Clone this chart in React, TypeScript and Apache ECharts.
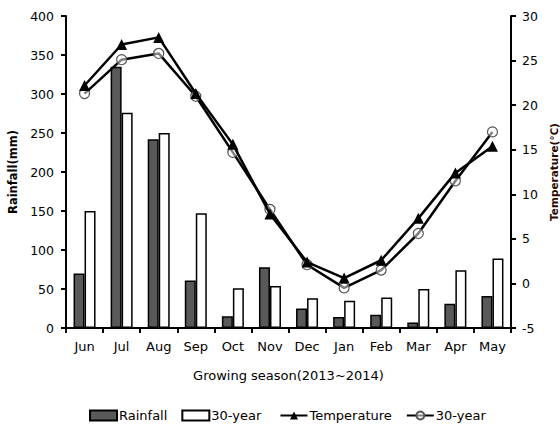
import React, { useEffect, useRef } from "react";
import * as echarts from "echarts";

const months = ["Jun", "Jul", "Aug", "Sep", "Oct", "Nov", "Dec", "Jan", "Feb", "Mar", "Apr", "May"];
const rainfall = [70, 335, 242, 61, 15, 78, 25, 14, 17, 7, 31, 41];
const rainfall30 = [150, 276, 250, 147, 51, 54, 38, 35, 39, 50, 74, 89];
const temperature = [22.2, 26.8, 27.6, 21.3, 15.6, 7.8, 2.4, 0.6, 2.6, 7.3, 12.4, 15.4];
const temperature30 = [21.3, 25.1, 25.8, 21.0, 14.7, 8.3, 2.1, -0.5, 1.5, 5.6, 11.5, 17.0];

const FONT = "DejaVu Sans";

export default function App() {
  const ref = useRef<HTMLDivElement>(null);
  useEffect(() => {
    if (!ref.current) return;
    const chart = echarts.init(ref.current, null, { renderer: "svg" });
    const axisLine = { show: true, lineStyle: { color: "#000", width: 2 } };
    const axisTick = { show: true, length: 5, lineStyle: { color: "#000", width: 2 } };
    const labelStyle = { color: "#000", fontFamily: FONT, fontSize: 12.5 };
    chart.setOption({
      animation: false,
      backgroundColor: "#fff",
      textStyle: { fontFamily: FONT },
      grid: { left: 66, right: 49, top: 16, bottom: 97, containLabel: false, outerBoundsMode: "none" },
      legend: {
        top: 404,
        left: 84,
        itemWidth: 27,
        itemHeight: 10,
        itemGap: 14,
        textStyle: { color: "#000", fontFamily: FONT, fontSize: 13, padding: [0, 0, 0, -3] },
        data: [
          { name: "Rainfall", icon: "rect" },
          { name: "30-year ", icon: "rect" },
          { name: "Temperature" },
          { name: "30-year" },
        ],
      },
      xAxis: {
        type: "category",
        data: months,
        boundaryGap: true,
        axisLine,
        axisTick: { ...axisTick, alignWithLabel: false },
        axisLabel: { ...labelStyle, fontSize: 13, margin: 12 },
        splitLine: { show: false },
        name: "Growing season(2013~2014)",
        nameLocation: "middle",
        nameGap: 41,
        nameTextStyle: { color: "#000", fontFamily: FONT, fontSize: 13 },
      },
      yAxis: [
        {
          type: "value",
          min: 0,
          max: 400,
          interval: 50,
          axisLine,
          axisTick,
          axisLabel: { ...labelStyle, margin: 12 },
          splitLine: { show: false },
          name: "Rainfall(mm)",
          nameLocation: "middle",
          nameRotate: 90,
          nameGap: 47,
          nameTextStyle: { color: "#000", fontFamily: FONT, fontSize: 11.5, fontWeight: "bold" },
        },
        {
          type: "value",
          min: -5,
          max: 30,
          interval: 5,
          position: "right",
          axisLine,
          axisTick,
          axisLabel: { ...labelStyle, margin: 11 },
          splitLine: { show: false },
          name: "Temperature(℃)",
          nameLocation: "middle",
          nameRotate: 90,
          nameGap: 34,
          nameTextStyle: { color: "#2a0a00", fontFamily: FONT, fontSize: 10.5, fontWeight: "bold" },
        },
      ],
      series: [
        {
          name: "Rainfall",
          type: "bar",
          data: rainfall,
          barWidth: 11,
          barGap: "0%",
          itemStyle: { color: "#595959", borderColor: "#000", borderWidth: 1.5 },
        },
        {
          name: "30-year ",
          type: "bar",
          data: rainfall30,
          barWidth: 11,
          barGap: "0%",
          itemStyle: { color: "#fff", borderColor: "#000", borderWidth: 1.5 },
        },
        {
          name: "Temperature",
          type: "line",
          yAxisIndex: 1,
          data: temperature,
          symbol: "triangle",
          symbolSize: 11,
          z: 5,
          lineStyle: { color: "#000", width: 2.5 },
          itemStyle: { color: "#000" },
        },
        {
          name: "30-year",
          type: "line",
          yAxisIndex: 1,
          data: temperature30,
          symbol: "circle",
          symbolSize: 10,
          showAllSymbol: true,
          z: 4,
          lineStyle: { color: "#000", width: 2.5 },
          itemStyle: { color: "rgba(255,255,255,0.5)", borderColor: "#555", borderWidth: 1.2 },
        },
      ],
    });
    return () => chart.dispose();
  }, []);
  return <div ref={ref} style={{ width: 560, height: 425, position: "absolute", left: 0, top: 0 }} />;
}
